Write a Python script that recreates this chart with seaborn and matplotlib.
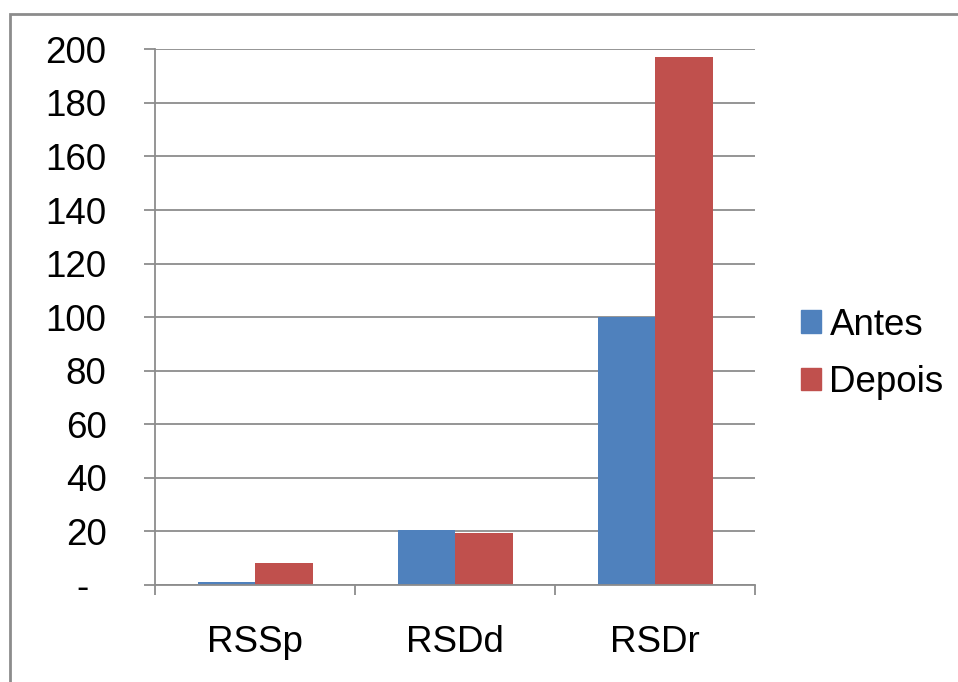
import matplotlib
matplotlib.use("Agg")
import matplotlib.pyplot as plt
import matplotlib.patches as mpatches
import seaborn as sns
import pandas as pd

# data
categories = ["RSSp", "RSDd", "RSDr"]
antes = [1.0, 20.6, 100.0]
depois = [8.2, 19.3, 197.3]
series_names = ["Antes", "Depois"]
colors = ["#4F81BD", "#C0504D"]
y_ticks = [0, 20, 40, 60, 80, 100, 120, 140, 160, 180, 200]
y_labels = ["- \u2009"] + [str(v) for v in y_ticks[1:]]

df = pd.DataFrame({
    "cat": categories * 2,
    "serie": [series_names[0]] * 3 + [series_names[1]] * 3,
    "val": antes + depois,
})

sns.set_style("white")
plt.rcParams["font.family"] = ["Liberation Sans", "DejaVu Sans"]
plt.rcParams["text.color"] = "black"
plt.rcParams["xtick.color"] = "black"
plt.rcParams["ytick.color"] = "black"

W, H = 958, 682
fig = plt.figure(figsize=(W / 100, H / 100), dpi=100)
ax = fig.add_axes([155 / W, 1 - 585 / H, 600 / W, (585 - 49.3) / H])

sns.barplot(data=df, x="cat", y="val", hue="serie", palette=colors,
            width=0.575, ax=ax, legend=False, saturation=1,
            edgecolor="none", linewidth=0)

ax.set_xlim(-0.5, 2.5)
ax.set_ylim(0, 200)
ax.set_yticks(y_ticks)
ax.set_yticklabels(y_labels)
ax.yaxis.grid(True, color="#8c8c8c", linewidth=1.3)
ax.set_axisbelow(True)
ax.set_xlabel("")
ax.set_ylabel("")

# x ticks between categories, labels at centers
ax.set_xticks([-0.5, 0.5, 1.5, 2.5])
ax.set_xticklabels([])
ax.set_xticks([0, 1, 2], minor=True)
ax.set_xticklabels(categories, minor=True)
ax.tick_params(axis="x", which="major", length=7, width=1.3, color="#8c8c8c",
               direction="out", bottom=True)
ax.tick_params(axis="x", which="minor", length=0, labelsize=26.5, labelcolor="black", pad=29)
ax.tick_params(axis="y", length=8, width=1.3, color="#8c8c8c", direction="out",
               left=True, labelsize=26.5, labelcolor="black", pad=27)

for side in ["top", "right"]:
    ax.spines[side].set_visible(False)
for side in ["left", "bottom"]:
    ax.spines[side].set_color("#8c8c8c")
    ax.spines[side].set_linewidth(1.3)

handles = [mpatches.Patch(color=c, label=n) for c, n in zip(colors, series_names)]
fig.legend(handles=handles, loc="center left", bbox_to_anchor=(768 / W, 1 - 354 / H),
           frameon=False, fontsize=26.5, handlelength=0.55, handleheight=0.55,
           handletextpad=0.22, labelspacing=0.62)

# outer frame (chart area border, cut at right and bottom)
fig.patches.append(mpatches.Rectangle((10 / W, -0.2), 1.2, 1.2 - 14 / H, transform=fig.transFigure,
                                      fill=False, edgecolor="#8c8c8c", linewidth=2))

fig.savefig("out.png", dpi=100)
